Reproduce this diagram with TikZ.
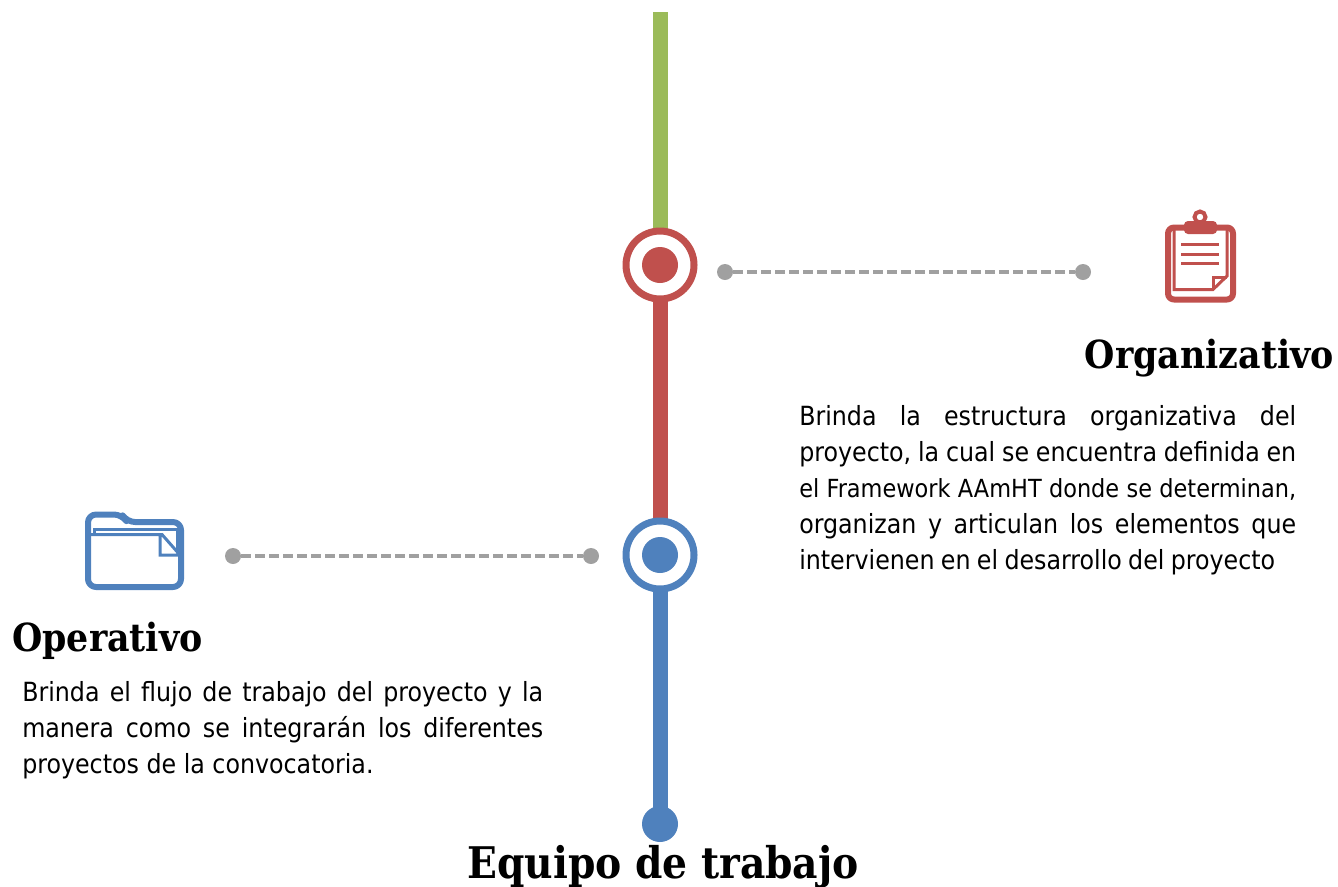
\documentclass[tikz,border=0pt]{standalone}
\usepackage{fontspec}
\setmainfont{DejaVu Sans Condensed}
\newfontfamily\headfont{DejaVu Serif Condensed}[BoldFont={DejaVu Serif Condensed Bold}]
\definecolor{barGreen}{HTML}{9BBB59}
\definecolor{barRed}{HTML}{C0504D}
\definecolor{barBlue}{HTML}{4F81BD}
\definecolor{dashGray}{HTML}{A0A0A0}
\tikzstyle{bar}=[line width=11.25pt]
\tikzstyle{ring}=[circle,draw,fill=white,line width=5.25pt,minimum size=51pt,inner sep=0pt]
\tikzstyle{hub}=[circle,minimum size=27pt,inner sep=0pt]
\tikzstyle{pin}=[circle,fill=dashGray,minimum size=12pt,inner sep=0pt]
\tikzstyle{link}=[draw=dashGray,line width=3pt,dash pattern=on 7.5pt off 3pt]
\tikzstyle{heading}=[inner sep=0pt,font=\headfont\bfseries\fontsize{29}{33}\selectfont]
\tikzstyle{title}=[inner sep=0pt,font=\headfont\bfseries\fontsize{32.7}{37}\selectfont]
\tikzstyle{body}=[inner sep=0pt,align=justify,font=\fontsize{19.8}{27}\selectfont]
\tikzstyle{iconthick}=[line width=4.5pt,line join=round]
\tikzstyle{iconthin}=[line width=2.25pt]
\begin{document}
\begin{tikzpicture}[x=0.75pt,y=-0.75pt]
    \useasboundingbox (0,0) rectangle (1338,886);
    %Axis points
    \coordinate (top) at (660,12);
    \coordinate (orgpos) at (660,265);
    \coordinate (oppos) at (660,555);
    \coordinate (startpos) at (660,824);
    %Axis segments
    \draw[bar,barGreen] (top) -- (orgpos);
    \draw[bar,barRed] (orgpos) -- (oppos);
    \draw[bar,barBlue] (oppos) -- (startpos);
    %Axis nodes
    \node[ring,draw=barRed] (org) at (orgpos) {};
    \node[ring,draw=barBlue] (op) at (oppos) {};
    \node[hub,fill=barRed] (orgdot) at (org) {};
    \node[hub,fill=barBlue] (opdot) at (op) {};
    \node[hub,fill=barBlue] (start) at (startpos) {};
    %Dashed links
    \foreach \pos/\name in {{(725,272)/orgA}, {(1083,272)/orgB}, {(233,556)/opA}, {(591,556)/opB}}
    \node[pin] (\name) at \pos {};
    \draw[link] (orgA) -- (orgB);
    \draw[link] (opA) -- (opB);
    %Clipboard icon
    \draw[barRed,iconthick,rounded corners=4.5pt] (1168,227.5) rectangle (1233,299.5);
    \draw[barRed,iconthin] (1174,230) -- (1174,289.5) -- (1213,289.5) -- (1227,276) -- (1227,230);
    \draw[barRed,iconthin] (1213,289.5) -- (1213,277) -- (1227,277);
    \draw[barRed,line width=3pt] (1200,217) circle (5.5);
    \fill[barRed,rounded corners=3pt] (1184,221) rectangle (1217,234);
    \foreach \ypos in {244,254,263}
    \draw[barRed,iconthin] (1181,\ypos) -- (1219,\ypos);
    %Folder icon
    \draw[barBlue,iconthick,rounded corners=6pt] (88,587) -- (88,514.5) -- (122,514.5) -- (127,522) -- (181,522) -- (181,587) -- cycle;
    \draw[barBlue,iconthin] (94,534) -- (94,529) -- (177,529) -- (177,552);
    \draw[barBlue,iconthin] (90,534.5) -- (162,534.5) -- (180,555) -- (160,555) -- (160,534.5);
    %Labels
    \node[heading,anchor=base east] (orgtitle) at (1334,368) {Organizativo};
    \node[heading,anchor=base west] (optitle) at (12,651) {Operativo};
    \node[title,anchor=base] (maintitle) at (663,878) {Equipo de trabajo};
    \node[body,anchor=north west,text width=372.75pt] (orgtext) at (799,405) {\tolerance=9999 \spaceskip=0.24em plus 1em minus 0.04em Brinda la estructura organizativa del\linebreak proyecto, la cual se encuentra definida en\linebreak {\fontsize{18.7}{27}\selectfont el Framework AAmHT donde se determinan,}\linebreak organizan y articulan los elementos que\linebreak intervienen en el desarrollo del proyecto\par};
    \node[body,anchor=north west,text width=390.75pt] (optext) at (22,681) {\tolerance=9999 Brinda el flujo de trabajo del proyecto y la\linebreak manera como se integrarán los diferentes\linebreak proyectos de la convocatoria.\par};
\end{tikzpicture}
\end{document}
